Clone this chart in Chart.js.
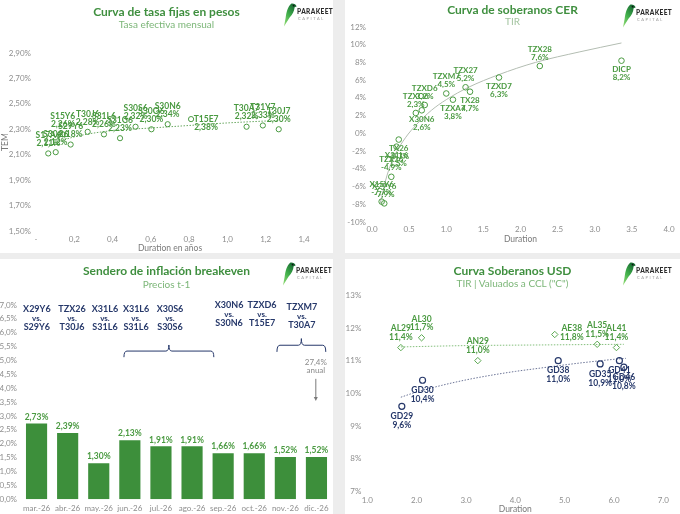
<!DOCTYPE html>
<html>
<head>
<meta charset="utf-8">
<script src="https://cdn.jsdelivr.net/npm/chart.js@4.4.1/dist/chart.umd.min.js"></script>
<style>
  html, body { margin: 0; padding: 0; width: 680px; height: 514px; overflow: hidden; background: #ededed; font-family: Lato, sans-serif; }
  .panel { position: absolute; background: #fff; overflow: hidden; }
  .panel canvas { position: absolute; left: 0; top: 0; }
  .ttl { position: absolute; left: 0; right: 0; text-align: center; font-weight: 700; color: #3f8f3f; font-size: 12px; white-space: nowrap; line-height: 14px; }
  .sub { position: absolute; left: 0; right: 0; text-align: center; color: #7cb678; font-size: 10px; white-space: nowrap; line-height: 12px; }
  .logo { position: absolute; width: 50px; height: 24px; }
  .logo svg { position: absolute; left: 0; top: 0; }
  .logo .brand { position: absolute; left: 14px; top: 5px; font-size: 6.5px; font-weight: 900; color: #2b2b2b; letter-spacing: 0.4px; }
  .logo .cap { position: absolute; left: 15px; top: 13px; font-size: 4px; color: #9a9a9a; letter-spacing: 1.6px; }
</style>
</head>
<body>

<div class="panel" id="p1" style="left:0;top:0;width:333px;height:253px">
  <canvas id="c1" width="333" height="253"></canvas>
  <div class="ttl" style="top:5px">Curva de tasa fijas en pesos</div>
  <div class="sub" style="top:18px">Tasa efectiva mensual</div>
  <div class="logo" style="left:283px;top:3px"></div>
</div>

<div class="panel" id="p2" style="left:345px;top:0;width:335px;height:253px">
  <canvas id="c2" width="335" height="253"></canvas>
  <div class="ttl" style="top:3px">Curva de soberanos CER</div>
  <div class="sub" style="top:15px;color:#a3c4a0">TIR</div>
  <div class="logo" style="left:277px;top:4px"></div>
</div>

<div class="panel" id="p3" style="left:0;top:259px;width:333px;height:255px">
  <canvas id="c3" width="333" height="255"></canvas>
  <div class="ttl" style="top:5px">Sendero de inflación breakeven</div>
  <div class="sub" style="top:19px">Precios t-1</div>
  <div class="logo" style="left:282px;top:3px"></div>
</div>

<div class="panel" id="p4" style="left:345px;top:259px;width:335px;height:255px">
  <canvas id="c4" width="335" height="255"></canvas>
  <div class="ttl" style="top:5px">Curva Soberanos USD</div>
  <div class="sub" style="top:18px">TIR | Valuados a CCL ("C")</div>
  <div class="logo" style="left:277px;top:3px"></div>
</div>

<script>
// ---- Curva de tasa fijas en pesos ----
const fijaNames = ['S17A6', 'S30A6', 'S15Y6', 'S29Y6', 'T30J6', 'S31L6', 'S31G6', 'S30S6', 'S30O6', 'S30N6', 'T15E7', 'T30A7', 'T31Y7', 'T30J7'];
const fijaDur = [0.064, 0.103, 0.14, 0.181, 0.27, 0.355, 0.439, 0.52, 0.603, 0.688, 0.81, 1.10, 1.185, 1.268];
const fijaTem = [2.11, 2.12, 2.26, 2.18, 2.28, 2.26, 2.23, 2.32, 2.30, 2.34, 2.38, 2.32, 2.33, 2.30];
const fijaTrendDur = [0.064, 0.1, 0.2, 0.4, 0.6, 0.8, 1.0, 1.27];
const fijaTrendTem = [2.16, 2.19, 2.24, 2.29, 2.31, 2.33, 2.35, 2.37];

// ---- Curva de soberanos CER ----
const cerNames = ['X15Y6', 'X29Y6', 'TZX26', 'X31L6', 'TX26', 'TZXO6', 'X30N6', 'TZXD6', 'TZXM7', 'TZXA7', 'TZX27', 'TX28', 'TZXD7', 'TZX28', 'DICP'];
const cerDur = [0.13, 0.165, 0.26, 0.33, 0.36, 0.59, 0.67, 0.71, 1.0, 1.09, 1.26, 1.32, 1.71, 2.26, 3.36];
const cerTir = [-7.7, -7.9, -4.9, -1.5, -0.7, 2.3, 2.6, 3.2, 4.5, 3.8, 5.2, 4.7, 6.3, 7.6, 8.2];
const cerTrendDur = [0.11, 0.2, 0.3, 0.45, 0.6, 0.8, 1.0, 1.3, 1.7, 2.2, 2.8, 3.36];
const cerTrendTir = [-7.9, -4.8, -2.6, -0.5, 1.0, 2.6, 3.8, 5.2, 6.6, 8.0, 9.2, 10.2];

// ---- Sendero de inflación breakeven ----
const months = ['mar.-26', 'abr.-26', 'may.-26', 'jun.-26', 'jul.-26', 'ago.-26', 'sep.-26', 'oct.-26', 'nov.-26', 'dic.-26'];
const breakeven = [2.73, 2.39, 1.30, 2.13, 1.91, 1.91, 1.66, 1.66, 1.52, 1.52];
const pairTop = ['X29Y6', 'TZX26', 'X31L6', 'X31L6', 'X30S6', 'X30N6', 'TZXD6', 'TZXM7'];
const pairBottom = ['S29Y6', 'T30J6', 'S31L6', 'S31L6', 'S30S6', 'S30N6', 'T15E7', 'T30A7'];
const annualNote = ['27,4%', 'anual'];

// ---- Curva Soberanos USD ----
const alNames = ['AL29', 'AL30', 'AN29', 'AE38', 'AL35', 'AL41'];
const alDur = [1.68, 2.10, 3.24, 4.80, 5.66, 6.05];
const alTir = [11.4, 11.7, 11.0, 11.8, 11.5, 11.4];
const gdNames = ['GD29', 'GD30', 'GD38', 'GD35', 'GD41', 'GD46'];
const gdDur = [1.70, 2.12, 4.87, 5.72, 6.11, 6.20];
const gdTir = [9.6, 10.4, 11.0, 10.9, 11.0, 10.8];
const alTrendDur = [1.68, 3.0, 4.5, 6.2];
const alTrendTir = [11.42, 11.46, 11.48, 11.50];
const gdTrendDur = [1.68, 2.0, 2.5, 3.0, 3.5, 4.0, 4.5, 5.0, 5.5, 6.0, 6.24];
const gdTrendTir = [9.88, 10.04, 10.24, 10.41, 10.55, 10.67, 10.77, 10.87, 10.96, 11.04, 11.07];

const GREEN = '#4a9a41';
const BAR_GREEN = '#3d8f3b';
const NAVY = '#26386a';
const TICK = '#8e8e8e';

Chart.defaults.font.family = 'Lato, sans-serif';
Chart.defaults.font.size = 8;
Chart.defaults.color = TICK;
Chart.defaults.animation = false;

const pts = (xs, ys) => xs.map((x, i) => ({ x, y: ys[i] }));
const comma = (v, d) => v.toFixed(d).replace('.', ',');

// Logo: parrot mark plus brand name
const LOGO_SVG = `<svg width="14" height="24" viewBox="0 0 14 24">
  <defs><linearGradient id="lg" x1="0" y1="1" x2="0.6" y2="0">
    <stop offset="0" stop-color="#9be07a"/><stop offset="0.55" stop-color="#3fae4a"/><stop offset="1" stop-color="#1b6e35"/>
  </linearGradient></defs>
  <path d="M8.5 0.5 C11 0.3 13.2 1.6 13.6 3.6 L11.6 4.2 C11.4 8 9.4 11.5 6.6 14.5 L1 23.5 L2.6 15 C3.4 9.5 4.6 3.5 8.5 0.5 Z" fill="url(#lg)"/>
  <circle cx="10.6" cy="2.6" r="0.9" fill="#111"/>
</svg>`;
document.querySelectorAll('.logo').forEach(el => {
  el.innerHTML = LOGO_SVG + '<div class="brand">PARAKEET</div><div class="cap">CAPITAL</div>';
});

// Name + value labels next to scatter points
const pointLabels = {
  id: 'pointLabels',
  afterDatasetsDraw(chart) {
    const ctx = chart.ctx;
    chart.data.datasets.forEach((ds, di) => {
      if (!ds.labelNames) return;
      const meta = chart.getDatasetMeta(di);
      const off = ds.labelOffsets;
      ctx.save();
      ctx.font = ds.labelFont;
      ctx.fillStyle = ds.labelColor;
      ctx.textAlign = 'center';
      ctx.textBaseline = 'middle';
      meta.data.forEach((el, i) => {
        const p = ds.labelPos[i];
        const o = off[p];
        ctx.fillText(ds.labelNames[i], el.x + o[0], el.y + o[1]);
        ctx.fillText(ds.labelFormat(ds.data[i].y), el.x + o[0], el.y + o[2]);
      });
      ctx.restore();
    });
  }
};

function fixedAxes(yWidth, xHeight) {
  return {
    y: { afterFit: s => { s.width = yWidth; } },
    x: { afterFit: s => { s.height = xHeight; } }
  };
}

const noGrid = { display: false, drawTicks: false };
const noBorder = { display: false };

// ---------- Chart 1 ----------
const fx1 = fixedAxes(36, 22);
new Chart(document.getElementById('c1'), {
  type: 'scatter',
  data: {
    datasets: [{
      data: pts(fijaDur, fijaTem),
      pointRadius: 2.6, pointBorderWidth: 1, borderColor: GREEN, backgroundColor: 'rgba(255,255,255,0)',
      clip: false, order: 1,
      labelNames: fijaNames,
      labelPos: ['a', 'a', 'a', 'a', 'a', 'a', 'a', 'a', 'a', 'a', 'r', 'a', 'a', 'a'],
      labelOffsets: { a: [0, -18, -10], r: [15, 0, 8] },
      labelFont: 'bold 8.5px Lato', labelColor: GREEN,
      labelFormat: v => comma(v, 2) + '%'
    }, {
      type: 'line',
      data: pts(fijaTrendDur, fijaTrendTem),
      borderColor: '#6aa862', borderWidth: 1, borderDash: [1.5, 1.5],
      pointRadius: 0, cubicInterpolationMode: 'monotone', clip: false, order: 2
    }]
  },
  plugins: [pointLabels],
  options: {
    responsive: false,
    layout: { padding: { top: 53, right: 29, left: 0, bottom: 0 } },
    plugins: { legend: { display: false }, tooltip: { enabled: false } },
    scales: {
      x: {
        type: 'linear', min: 0, max: 1.4, grid: noGrid, border: noBorder, afterFit: fx1.x.afterFit,
        ticks: { stepSize: 0.2, padding: 4, color: TICK, callback: v => v === 0 ? '-' : comma(v, 1) },
        title: { display: true, text: 'Duration en años', color: '#7a7a7a', font: { size: 8.5 }, padding: 0 }
      },
      y: {
        min: 1.5, max: 2.9, grid: noGrid, border: noBorder, afterFit: fx1.y.afterFit,
        ticks: { stepSize: 0.2, padding: 5, color: TICK, callback: v => comma(v, 2) + '%' },
        title: { display: true, text: 'TEM', color: '#7a7a7a', font: { size: 8.5 }, padding: 0 }
      }
    }
  }
});

// ---------- Chart 2 ----------
const fx2 = fixedAxes(27, 31);
new Chart(document.getElementById('c2'), {
  type: 'scatter',
  data: {
    datasets: [{
      data: pts(cerDur, cerTir),
      pointRadius: 2.8, pointBorderWidth: 1, borderColor: GREEN, backgroundColor: 'rgba(255,255,255,0)',
      clip: false, order: 1,
      labelNames: cerNames,
      labelPos: ['a', 'a', 'a', 'b', 'b', 'a', 'b', 'a', 'a', 'b', 'a', 'b', 'b', 'a', 'b'],
      labelOffsets: { a: [0, -17, -9], b: [0, 9, 17] },
      labelFont: 'bold 8px Lato', labelColor: GREEN,
      labelFormat: v => comma(v, 1) + '%'
    }, {
      type: 'line',
      data: pts(cerTrendDur, cerTrendTir),
      borderColor: '#b3bdb2', borderWidth: 1,
      pointRadius: 0, cubicInterpolationMode: 'monotone', clip: false, order: 2
    }]
  },
  plugins: [pointLabels],
  options: {
    responsive: false,
    layout: { padding: { top: 27, right: 11, left: 0, bottom: 0 } },
    plugins: { legend: { display: false }, tooltip: { enabled: false } },
    scales: {
      x: {
        type: 'linear', min: 0, max: 4, grid: noGrid, border: noBorder, afterFit: fx2.x.afterFit,
        ticks: { stepSize: 0.5, padding: 3, color: TICK, callback: v => v.toFixed(1) },
        title: { display: true, text: 'Duration', color: '#7a7a7a', font: { size: 8.5 }, padding: { top: 0, bottom: 9 } }
      },
      y: {
        min: -10, max: 12, grid: noGrid, border: noBorder, afterFit: fx2.y.afterFit,
        ticks: { stepSize: 2, padding: 6, color: TICK, callback: v => v + '%' }
      }
    }
  }
});

// ---------- Chart 3 ----------
const breakevenNotes = {
  id: 'breakevenNotes',
  afterDatasetsDraw(chart, args, opts) {
    const { ctx, scales: { x, y } } = chart;
    const meta = chart.getDatasetMeta(0);
    ctx.save();
    // value labels over the bars
    ctx.font = 'bold 8.5px Lato';
    ctx.fillStyle = GREEN;
    ctx.textAlign = 'center';
    ctx.textBaseline = 'middle';
    meta.data.forEach((bar, i) => {
      ctx.fillText(comma(breakeven[i], 2) + '%', bar.x, bar.y - 6.5);
    });
    // bond pairs
    ctx.font = 'bold 9px Lato';
    ctx.fillStyle = NAVY;
    pairTop.forEach((t, i) => {
      const px = x.getPixelForValue(opts.pairAt[i]);
      const py = y.getPixelForValue(opts.pairY[i]);
      ctx.fillText(t, px, py);
      ctx.font = 'bold 8px Lato';
      ctx.fillText('vs.', px, py + 9.5);
      ctx.font = 'bold 9px Lato';
      ctx.fillText(pairBottom[i], px, py + 18);
    });
    // curly brackets
    ctx.strokeStyle = NAVY;
    ctx.lineWidth = 1;
    opts.brackets.forEach(b => {
      const x0 = x.getPixelForValue(b.from), x1 = x.getPixelForValue(b.to);
      const yl = y.getPixelForValue(b.y);
      const yd = y.getPixelForValue(b.y - b.drop);
      const yu = y.getPixelForValue(b.y + b.rise);
      const xm = (x0 + x1) / 2;
      ctx.beginPath();
      ctx.moveTo(x0, yd);
      ctx.quadraticCurveTo(x0, yl, x0 + 3, yl);
      ctx.lineTo(xm - 3, yl);
      ctx.quadraticCurveTo(xm, yl, xm, yu);
      ctx.quadraticCurveTo(xm, yl, xm + 3, yl);
      ctx.lineTo(x1 - 3, yl);
      ctx.quadraticCurveTo(x1, yl, x1, yd);
      ctx.stroke();
    });
    // annual note with arrow
    const ax = x.getPixelForValue(opts.note.at);
    ctx.font = '8px Lato';
    ctx.fillStyle = '#8a8a8a';
    ctx.fillText(annualNote[0], ax, y.getPixelForValue(opts.note.y));
    ctx.fillText(annualNote[1], ax, y.getPixelForValue(opts.note.y) + 7.5);
    const a0 = y.getPixelForValue(opts.note.arrowFrom), a1 = y.getPixelForValue(opts.note.arrowTo);
    ctx.strokeStyle = '#7a7a7a';
    ctx.beginPath();
    ctx.moveTo(ax, a0); ctx.lineTo(ax, a1 - 3);
    ctx.stroke();
    ctx.fillStyle = '#7a7a7a';
    ctx.beginPath();
    ctx.moveTo(ax - 2, a1 - 4); ctx.lineTo(ax + 2, a1 - 4); ctx.lineTo(ax, a1); ctx.closePath();
    ctx.fill();
    ctx.restore();
  }
};

const fx3 = fixedAxes(21, 14.7);
new Chart(document.getElementById('c3'), {
  type: 'bar',
  data: {
    labels: months,
    datasets: [{
      data: breakeven,
      backgroundColor: BAR_GREEN,
      categoryPercentage: 1, barPercentage: 0.68
    }]
  },
  plugins: [breakevenNotes],
  options: {
    responsive: false,
    layout: { padding: { top: 46, right: 1, left: 0, bottom: 0 } },
    plugins: {
      legend: { display: false }, tooltip: { enabled: false },
      breakevenNotes: {
        pairAt: [0.01, 1.14, 2.2, 3.2, 4.29, 6.19, 7.25, 8.53],
        pairY: [6.86, 6.86, 6.86, 6.86, 6.86, 7.0, 7.0, 6.93],
        brackets: [
          { from: 2.81, to: 5.70, y: 5.34, drop: 0.22, rise: 0.22 },
          { from: 7.73, to: 9.30, y: 5.55, drop: 0.24, rise: 0.24 }
        ],
        note: { at: 8.98, y: 4.92, arrowFrom: 4.34, arrowTo: 3.54 }
      }
    },
    scales: {
      x: {
        grid: noGrid, border: noBorder, afterFit: fx3.x.afterFit,
        ticks: { padding: 4, color: TICK, autoSkip: false, maxRotation: 0 }
      },
      y: {
        min: 0, max: 7, grid: noGrid, border: noBorder, afterFit: fx3.y.afterFit,
        ticks: { stepSize: 0.5, padding: 4, color: TICK, autoSkip: false, callback: v => comma(v, 1) + '%' }
      }
    }
  }
});

// ---------- Chart 4 ----------
const fx4 = fixedAxes(22.3, 22.7);
new Chart(document.getElementById('c4'), {
  type: 'scatter',
  data: {
    datasets: [{
      data: pts(alDur, alTir),
      pointStyle: 'rectRot', pointRadius: 3.2, pointBorderWidth: 1, borderColor: '#5aa850', backgroundColor: 'rgba(255,255,255,0)',
      clip: false, order: 1,
      labelNames: alNames,
      labelPos: ['a', 'a', 'a', 'r', 'a', 'a'],
      labelOffsets: { a: [0, -19, -10.5], r: [17, -6, 3] },
      labelFont: 'bold 8.5px Lato', labelColor: GREEN,
      labelFormat: v => comma(v, 1) + '%'
    }, {
      data: pts(gdDur, gdTir),
      pointRadius: 3, pointBorderWidth: 1.2, borderColor: NAVY, backgroundColor: 'rgba(255,255,255,0)',
      clip: false, order: 1,
      labelNames: gdNames,
      labelPos: ['b', 'b', 'b', 'b', 'b', 'b'],
      labelOffsets: { b: [0, 10, 19] },
      labelFont: 'bold 8.5px Lato', labelColor: NAVY,
      labelFormat: v => comma(v, 1) + '%'
    }, {
      type: 'line',
      data: pts(alTrendDur, alTrendTir),
      borderColor: '#84bf7c', borderWidth: 1, borderDash: [1.5, 1.5],
      pointRadius: 0, cubicInterpolationMode: 'monotone', clip: false, order: 2
    }, {
      type: 'line',
      data: pts(gdTrendDur, gdTrendTir),
      borderColor: '#6b7496', borderWidth: 1, borderDash: [1.5, 1.5],
      pointRadius: 0, cubicInterpolationMode: 'monotone', clip: false, order: 2
    }]
  },
  plugins: [pointLabels],
  options: {
    responsive: false,
    layout: { padding: { top: 36.3, right: 16.7, left: 0, bottom: 0 } },
    plugins: { legend: { display: false }, tooltip: { enabled: false } },
    scales: {
      x: {
        type: 'linear', min: 1, max: 7, grid: noGrid, border: noBorder, afterFit: fx4.x.afterFit,
        ticks: { stepSize: 1, padding: 4, color: TICK, callback: v => v.toFixed(1) },
        title: { display: true, text: 'Duration', color: '#7a7a7a', font: { size: 8.5 }, padding: 0 }
      },
      y: {
        min: 7, max: 13, grid: noGrid, border: noBorder, afterFit: fx4.y.afterFit,
        ticks: { stepSize: 1, padding: 6, color: TICK, callback: v => v + '%' }
      }
    }
  }
});
</script>
</body>
</html>
